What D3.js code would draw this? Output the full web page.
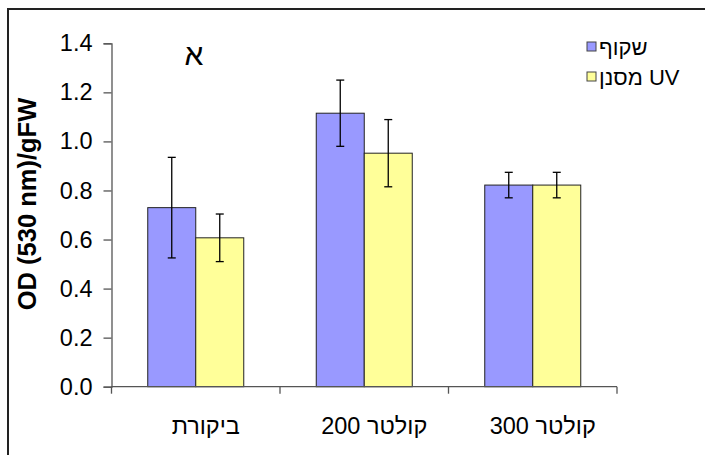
<!DOCTYPE html>
<html>
<head>
<meta charset="utf-8">
<script src="https://cdn.jsdelivr.net/npm/d3@7"></script>
<style>
  body { margin: 0; background: #fff; }
  svg { display: block; font-family: Arial, "Liberation Sans", sans-serif; }
</style>
</head>
<body>
<div id="chart"></div>
<script>
// data
const categories = ['ביקורת', 'קולטר 200', 'קולטר 300'];
const seriesNames = ['שקוף', 'מסנן UV'];
const clearValues = [0.73, 1.115, 0.822];
const clearErrors = [0.205, 0.135, 0.052];
const uvValues = [0.607, 0.952, 0.822];
const uvErrors = [0.097, 0.137, 0.052];
const yTicks = [0, 0.2, 0.4, 0.6, 0.8, 1.0, 1.2, 1.4];
const colors = ['#9999ff', '#ffff99'];

const W = 705, H = 455;

const svg = d3.select('#chart').append('svg')
  .attr('width', W)
  .attr('height', H);

// outer chart frame (cut off at right/bottom like the reference)
svg.append('rect')
  .attr('x', 8).attr('y', 9)
  .attr('width', W + 20).attr('height', H + 20)
  .attr('fill', 'none')
  .attr('stroke', '#222')
  .attr('stroke-width', 2);

const y = d3.scaleLinear().domain([0, 1.4]).range([386.7, 43.3]);

const pad = 1 - 96 / 168.5;
const x = d3.scaleBand().domain(categories)
  .range([111.5, 617])
  .paddingInner(pad)
  .paddingOuter(pad / 2);

const xs = d3.scaleBand().domain(seriesNames).range([0, x.bandwidth()]);

const rows = categories.map((c, i) => ({
  cat: c,
  vals: [
    { s: seriesNames[0], v: clearValues[i], e: clearErrors[i], col: colors[0] },
    { s: seriesNames[1], v: uvValues[i], e: uvErrors[i], col: colors[1] }
  ]
}));

// bars
const groups = svg.selectAll('.grp')
  .data(rows)
  .enter().append('g')
  .attr('class', 'grp')
  .attr('transform', d => `translate(${x(d.cat)},0)`);

groups.selectAll('rect')
  .data(d => d.vals)
  .enter().append('rect')
  .attr('x', d => xs(d.s))
  .attr('y', d => y(d.v))
  .attr('width', xs.bandwidth())
  .attr('height', d => y(0) - y(d.v))
  .attr('fill', d => d.col)
  .attr('stroke', '#222')
  .attr('stroke-width', 1);

// error bars
const err = groups.selectAll('.err')
  .data(d => d.vals)
  .enter().append('g')
  .attr('class', 'err')
  .attr('stroke', '#000')
  .attr('stroke-width', 1.3);
err.append('line')
  .attr('x1', d => xs(d.s) + xs.bandwidth() / 2)
  .attr('x2', d => xs(d.s) + xs.bandwidth() / 2)
  .attr('y1', d => y(d.v + d.e))
  .attr('y2', d => y(d.v - d.e));
[1, -1].forEach(sg => {
  err.append('line')
    .attr('x1', d => xs(d.s) + xs.bandwidth() / 2 - 4)
    .attr('x2', d => xs(d.s) + xs.bandwidth() / 2 + 4)
    .attr('y1', d => y(d.v + sg * d.e))
    .attr('y2', d => y(d.v + sg * d.e));
});

// y axis
const yAxis = svg.append('g')
  .attr('transform', 'translate(111.5,0)')
  .call(d3.axisLeft(y).tickValues(yTicks).tickFormat(d3.format('.1f')).tickSize(8).tickPadding(11));
yAxis.select('.domain').attr('stroke', '#555').attr('stroke-width', 1.3);
yAxis.selectAll('.tick line').attr('stroke', '#555').attr('stroke-width', 1.3);
yAxis.selectAll('text').attr('font-size', 23.5).attr('fill', '#000')
  .attr('font-family', 'Arial, "Liberation Sans", sans-serif');

// x axis line and category separators
const xAxis = svg.append('g');
xAxis.append('line')
  .attr('x1', x.range()[0]).attr('x2', x.range()[1])
  .attr('y1', y(0)).attr('y2', y(0))
  .attr('stroke', '#555').attr('stroke-width', 1.3);
xAxis.selectAll('.sep')
  .data(d3.range(categories.length + 1))
  .enter().append('line')
  .attr('x1', i => x.range()[0] + i * x.step())
  .attr('x2', i => x.range()[0] + i * x.step())
  .attr('y1', y(0)).attr('y2', y(0) + 7)
  .attr('stroke', '#555').attr('stroke-width', 1.3);
xAxis.selectAll('.cat')
  .data(categories)
  .enter().append('text')
  .attr('x', d => x(d) + x.bandwidth() / 2 + 10)
  .attr('y', 434)
  .attr('text-anchor', 'middle')
  .attr('direction', 'rtl')
  .style('unicode-bidi', 'embed')
  .attr('font-size', 23.5)
  .text(d => d);

// y label
svg.append('text')
  .attr('transform', 'translate(36,204) rotate(-90)')
  .attr('text-anchor', 'middle')
  .attr('font-size', 25.5)
  .attr('font-weight', 'bold')
  .text('OD (530 nm)/gFW');

// panel letter
svg.append('text')
  .attr('x', 194)
  .attr('y', 65)
  .attr('text-anchor', 'middle')
  .attr('font-size', 30)
  .text('א');

// legend
const leg = svg.selectAll('.leg')
  .data(seriesNames)
  .enter().append('g')
  .attr('class', 'leg')
  .attr('transform', (d, i) => `translate(587,${42 + i * 30})`);
leg.append('rect')
  .attr('width', 9).attr('height', 9)
  .attr('fill', (d, i) => colors[i])
  .attr('stroke', '#444');
leg.append('text')
  .attr('x', 12)
  .attr('y', 13)
  .attr('font-size', 22)
  .text(d => d);
</script>
</body>
</html>
